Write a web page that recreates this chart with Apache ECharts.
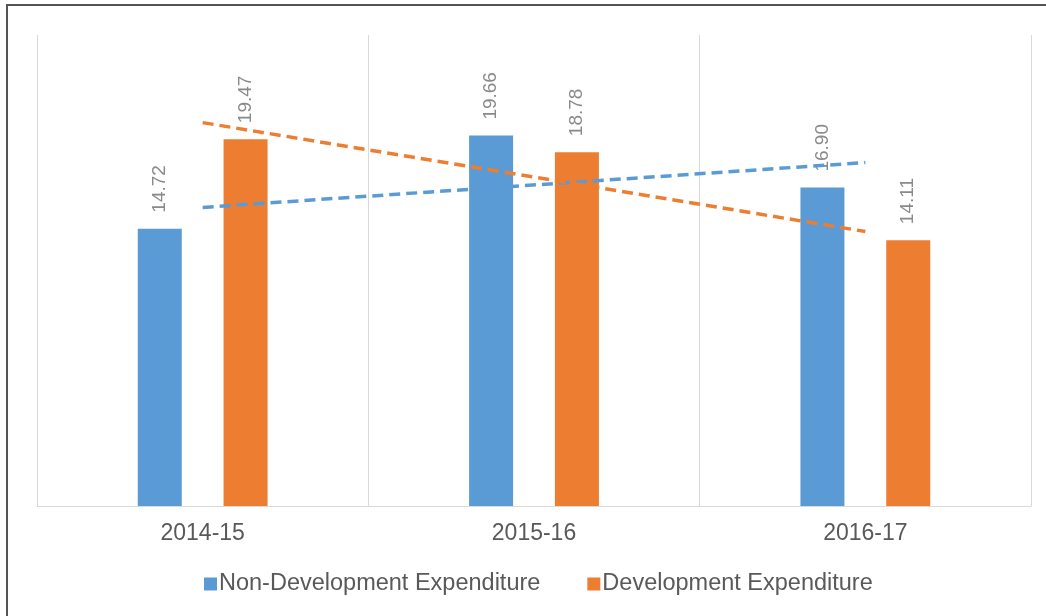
<!DOCTYPE html>
<html>
<head>
<meta charset="utf-8">
<script src="https://cdn.jsdelivr.net/npm/echarts@6/dist/echarts.min.js"></script>
<style>
  html, body { margin: 0; padding: 0; background: #ffffff; }
  #chart { width: 1046px; height: 616px; }
</style>
</head>
<body>
<div id="chart"></div>
<script>
// Fiscal years on the category axis
const years = ['2014-15', '2015-16', '2016-17'];

// Expenditure values per year
const nonDevExpenditure = [14.72, 19.66, 16.90];
const devExpenditure = [19.47, 18.78, 14.11];

// Linear trend endpoints (first and last year), middle left open
const nonDevTrend = [15.85, '-', 18.23];
const devTrend = [20.35, '-', 14.57];

const seriesNames = ['Non-Development Expenditure', 'Development Expenditure'];

const BLUE = '#5B9BD5';
const ORANGE = '#ED7D31';

const chart = echarts.init(document.getElementById('chart'));

const barLabel = {
  show: true,
  position: 'top',
  rotate: 90,
  align: 'left',
  verticalAlign: 'middle',
  distance: 16,
  color: '#8a8a8a',
  fontFamily: 'Liberation Sans, Arial, sans-serif',
  fontSize: 19,
  formatter: p => p.value.toFixed(2)
};

chart.setOption({
  backgroundColor: '#ffffff',
  animation: false,
  grid: { left: 37, right: 15, top: 35, bottom: 110, containLabel: false },
  legend: {
    data: seriesNames,
    left: 199,
    top: 567,
    icon: 'rect',
    itemWidth: 13,
    itemHeight: 13,
    itemGap: 47,
    textStyle: {
      color: '#595959',
      fontFamily: 'Liberation Sans, Arial, sans-serif',
      fontSize: 23.5,
      padding: [0, 0, 0, -3]
    }
  },
  xAxis: {
    type: 'category',
    data: years,
    boundaryGap: true,
    axisLine: { show: true, lineStyle: { color: '#d9d9d9', width: 1 } },
    axisTick: { show: false },
    splitLine: { show: true, lineStyle: { color: '#d9d9d9', width: 1 } },
    axisLabel: {
      color: '#595959',
      fontFamily: 'Liberation Sans, Arial, sans-serif',
      fontSize: 23,
      margin: 16
    }
  },
  yAxis: {
    type: 'value',
    min: 0,
    max: 25,
    show: false,
    splitLine: { show: false }
  },
  series: [
    {
      name: seriesNames[0],
      type: 'bar',
      data: nonDevExpenditure,
      barWidth: 44,
      barGap: '95%',
      itemStyle: { color: BLUE },
      label: barLabel
    },
    {
      name: seriesNames[1],
      type: 'bar',
      data: devExpenditure,
      barWidth: 44,
      barGap: '95%',
      itemStyle: { color: ORANGE },
      label: barLabel
    },
    {
      name: 'Non-Development trend',
      type: 'line',
      data: nonDevTrend,
      connectNulls: true,
      symbol: 'none',
      zlevel: 1,
      lineStyle: { color: BLUE, width: 3.5, type: [11, 6] },
      silent: true
    },
    {
      name: 'Development trend',
      type: 'line',
      data: devTrend,
      connectNulls: true,
      symbol: 'none',
      zlevel: 1,
      lineStyle: { color: ORANGE, width: 3.5, type: [11, 6] },
      silent: true
    }
  ],
  graphic: [
    {
      type: 'polyline',
      shape: { points: [[7, 616], [7, 5], [1046, 5]] },
      style: { stroke: '#555555', lineWidth: 2, fill: null },
      silent: true
    }
  ]
});
</script>
</body>
</html>
